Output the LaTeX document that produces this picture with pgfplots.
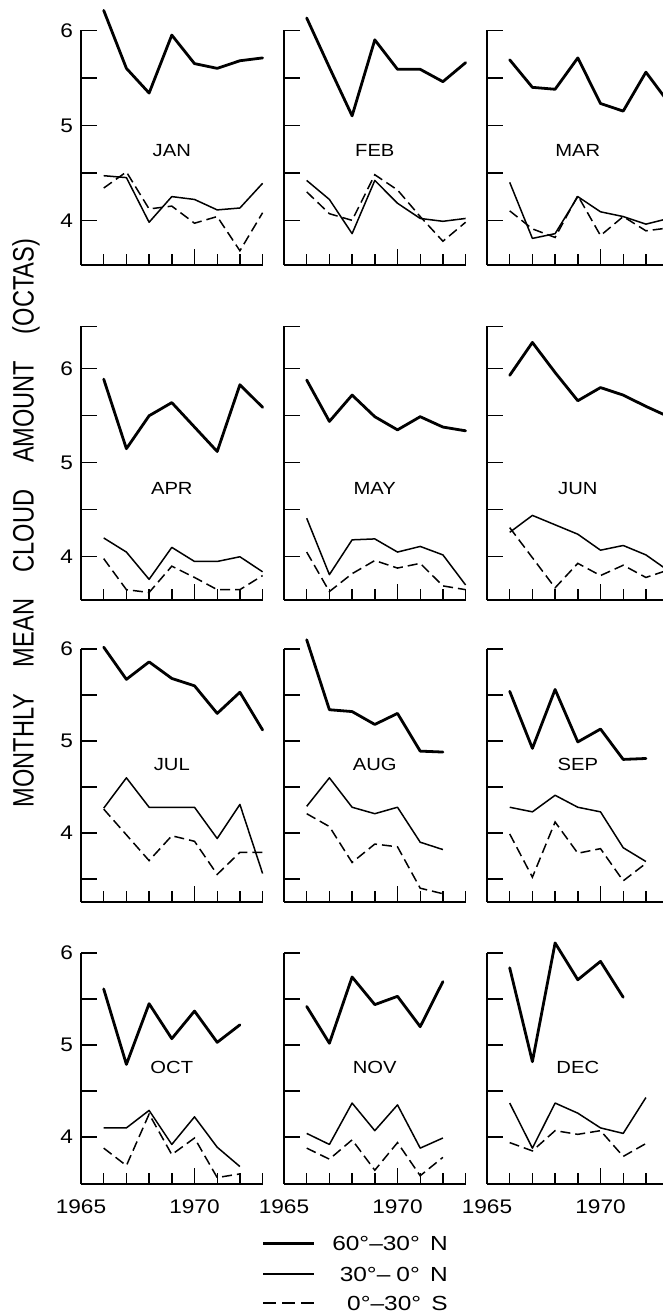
\documentclass[border=0pt]{standalone}
\usepackage{fontspec}
\setmainfont{Liberation Sans}[FakeStretch=1.15]
\newfontfamily\ylabfont{Liberation Sans}[FakeStretch=0.8]
\newfontfamily\legfamily{Liberation Sans}[FakeStretch=1.2]
\usepackage{pgfplots}
\pgfplotsset{compat=1.18}
\newlength{\pxu}
\setlength{\pxu}{0.25mm}
\newcommand\tickfont{\fontsize{14}{16}\selectfont}
\newcommand\monthfont{\fontsize{12.5}{14}\selectfont}
\newcommand\legfont{\legfamily\fontsize{14.5}{17}\selectfont}
\tikzset{month/.style={font=\monthfont}}
\pgfplotsset{
  panel/.style={
    x=22.7\pxu, xmin=1965, xmax=1973,
    axis x line=bottom, axis y line=left,
    axis line style={-, line width=1.4\pxu, black},
    clip=false, anchor=south west,
    tick align=inside,
    xtick={1970}, minor xtick={1966,1967,1968,1969,1970,1971,1972,1973},
    major tick length=16\pxu, minor tick length=11\pxu,
    every tick/.style={line width=1.4\pxu, black},
    xticklabels={}, yticklabels={},
    /pgf/number format/assume math mode=true,
    tick label style={font=\tickfont},
    xticklabel style={yshift=-11\pxu},
    yticklabel style={xshift=-3\pxu},
  },
  row1/.style={y=95\pxu, ymin=3.53, ymax=6, ytick={4,4.5,5,5.5,6}},
  row2/.style={y=94\pxu, ymin=3.54, ymax=6.45, ytick={4,4.5,5,5.5,6,6.45}},
  row3/.style={y=92\pxu, ymin=3.25, ymax=6, ytick={3.5,4,4.5,5,5.5,6}},
  row4/.style={y=92\pxu, ymin=3.49, ymax=6, ytick={4,4.5,5,5.5,6}},
  lab1/.style={yticklabels={4,{},5,{},6}},
  lab2/.style={yticklabels={4,{},5,{},6,{}}},
  lab3/.style={yticklabels={{},4,{},5,{},6}},
  botrow/.style={xticklabels={1970}, extra x ticks={1965}, extra x tick labels={1965},
    extra x tick style={major tick length=0pt}},
  thk/.style={black, line width=2.8\pxu, line join=round, line cap=round},
  thn/.style={black, line width=1.5\pxu, line join=round},
  dsh/.style={black, line width=1.5\pxu, dash pattern=on 10\pxu off 5\pxu},
}
\begin{document}
\begin{tikzpicture}
% ---------- Row 1 ----------
\begin{axis}[panel, row1, lab1, at={(81\pxu,-265\pxu)}]
\addplot[thk] coordinates {(1966,6.21)(1967,5.60)(1968,5.34)(1969,5.95)(1970,5.65)(1971,5.60)(1972,5.68)(1973,5.71)};
\addplot[thn] coordinates {(1966,4.47)(1967,4.45)(1968,3.98)(1969,4.25)(1970,4.22)(1971,4.11)(1972,4.13)(1973,4.39)};
\addplot[dsh] coordinates {(1966,4.34)(1967,4.51)(1968,4.12)(1969,4.15)(1970,3.97)(1971,4.04)(1972,3.68)(1973,4.08)};
\node[month] at (axis cs:1969,4.74) {JAN};
\end{axis}
\begin{axis}[panel, row1, at={(284\pxu,-265\pxu)}]
\addplot[thk] coordinates {(1966,6.13)(1967,5.61)(1968,5.10)(1969,5.90)(1970,5.59)(1971,5.59)(1972,5.46)(1973,5.66)};
\addplot[thn] coordinates {(1966,4.42)(1967,4.22)(1968,3.86)(1969,4.42)(1970,4.18)(1971,4.02)(1972,3.99)(1973,4.02)};
\addplot[dsh] coordinates {(1966,4.30)(1967,4.07)(1968,4.00)(1969,4.48)(1970,4.32)(1971,4.04)(1972,3.78)(1973,3.98)};
\node[month] at (axis cs:1969,4.74) {FEB};
\end{axis}
\begin{axis}[panel, row1, at={(487\pxu,-265\pxu)}]
\addplot[thk] coordinates {(1966,5.69)(1967,5.40)(1968,5.38)(1969,5.71)(1970,5.23)(1971,5.15)(1972,5.56)(1973,5.24)};
\addplot[thn] coordinates {(1966,4.40)(1967,3.81)(1968,3.86)(1969,4.25)(1970,4.09)(1971,4.04)(1972,3.96)(1973,4.02)};
\addplot[dsh] coordinates {(1966,4.10)(1967,3.91)(1968,3.82)(1969,4.26)(1970,3.84)(1971,4.04)(1972,3.89)(1973,3.92)};
\node[month] at (axis cs:1969,4.74) {MAR};
\end{axis}
% ---------- Row 2 ----------
\begin{axis}[panel, row2, lab2, at={(81\pxu,-600\pxu)}]
\addplot[thk] coordinates {(1966,5.89)(1967,5.15)(1968,5.50)(1969,5.64)(1970,5.38)(1971,5.12)(1972,5.83)(1973,5.59)};
\addplot[thn] coordinates {(1966,4.20)(1967,4.05)(1968,3.76)(1969,4.10)(1970,3.95)(1971,3.95)(1972,4.00)(1973,3.84)};
\addplot[dsh] coordinates {(1966,3.98)(1967,3.65)(1968,3.62)(1969,3.90)(1970,3.78)(1971,3.65)(1972,3.65)(1973,3.80)};
\node[month] at (axis cs:1969,4.73) {APR};
\end{axis}
\begin{axis}[panel, row2, at={(284\pxu,-600\pxu)}]
\addplot[thk] coordinates {(1966,5.88)(1967,5.44)(1968,5.72)(1969,5.49)(1970,5.35)(1971,5.49)(1972,5.38)(1973,5.34)};
\addplot[thn] coordinates {(1966,4.41)(1967,3.81)(1968,4.18)(1969,4.19)(1970,4.05)(1971,4.11)(1972,4.02)(1973,3.70)};
\addplot[dsh] coordinates {(1966,4.05)(1967,3.63)(1968,3.82)(1969,3.96)(1970,3.88)(1971,3.93)(1972,3.69)(1973,3.65)};
\node[month] at (axis cs:1969,4.73) {MAY};
\end{axis}
\begin{axis}[panel, row2, at={(487\pxu,-600\pxu)}]
\addplot[thk] coordinates {(1966,5.93)(1967,6.28)(1968,5.96)(1969,5.66)(1970,5.80)(1971,5.72)(1972,5.60)(1973,5.49)};
\addplot[thn] coordinates {(1966,4.26)(1967,4.44)(1968,4.34)(1969,4.24)(1970,4.07)(1971,4.12)(1972,4.02)(1973,3.85)};
\addplot[dsh] coordinates {(1966,4.31)(1967,3.99)(1968,3.67)(1969,3.93)(1970,3.80)(1971,3.91)(1972,3.78)(1973,3.86)};
\node[month] at (axis cs:1969,4.73) {JUN};
\end{axis}
% ---------- Row 3 ----------
\begin{axis}[panel, row3, lab3, at={(81\pxu,-902\pxu)}]
\addplot[thk] coordinates {(1966,6.02)(1967,5.67)(1968,5.86)(1969,5.68)(1970,5.60)(1971,5.30)(1972,5.53)(1973,5.12)};
\addplot[thn] coordinates {(1966,4.27)(1967,4.60)(1968,4.28)(1969,4.28)(1970,4.28)(1971,3.94)(1972,4.31)(1973,3.56)};
\addplot[dsh] coordinates {(1966,4.26)(1967,3.98)(1968,3.70)(1969,3.97)(1970,3.91)(1971,3.55)(1972,3.79)(1973,3.79)};
\node[month] at (axis cs:1969,4.74) {JUL};
\end{axis}
\begin{axis}[panel, row3, at={(284\pxu,-902\pxu)}]
\addplot[thk] coordinates {(1966,6.10)(1967,5.34)(1968,5.32)(1969,5.18)(1970,5.30)(1971,4.89)(1972,4.88)};
\addplot[thn] coordinates {(1966,4.29)(1967,4.60)(1968,4.28)(1969,4.21)(1970,4.28)(1971,3.90)(1972,3.82)};
\addplot[dsh] coordinates {(1966,4.21)(1967,4.07)(1968,3.68)(1969,3.88)(1970,3.85)(1971,3.40)(1972,3.34)};
\node[month] at (axis cs:1969,4.74) {AUG};
\end{axis}
\begin{axis}[panel, row3, at={(487\pxu,-902\pxu)}]
\addplot[thk] coordinates {(1966,5.54)(1967,4.92)(1968,5.56)(1969,4.99)(1970,5.13)(1971,4.80)(1972,4.81)};
\addplot[thn] coordinates {(1966,4.28)(1967,4.23)(1968,4.41)(1969,4.28)(1970,4.23)(1971,3.84)(1972,3.69)};
\addplot[dsh] coordinates {(1966,3.99)(1967,3.52)(1968,4.12)(1969,3.78)(1970,3.83)(1971,3.48)(1972,3.67)};
\node[month] at (axis cs:1969,4.74) {SEP};
\end{axis}
% ---------- Row 4 ----------
\begin{axis}[panel, row4, lab1, botrow, at={(81\pxu,-1184\pxu)}]
\addplot[thk] coordinates {(1966,5.61)(1967,4.79)(1968,5.45)(1969,5.07)(1970,5.37)(1971,5.03)(1972,5.22)};
\addplot[thn] coordinates {(1966,4.10)(1967,4.10)(1968,4.29)(1969,3.92)(1970,4.22)(1971,3.89)(1972,3.68)};
\addplot[dsh] coordinates {(1966,3.88)(1967,3.69)(1968,4.25)(1969,3.81)(1970,3.99)(1971,3.56)(1972,3.60)};
\node[month] at (axis cs:1969,4.76) {OCT};
\end{axis}
\begin{axis}[panel, row4, botrow, at={(284\pxu,-1184\pxu)}]
\addplot[thk] coordinates {(1966,5.42)(1967,5.02)(1968,5.74)(1969,5.44)(1970,5.53)(1971,5.20)(1972,5.69)};
\addplot[thn] coordinates {(1966,4.04)(1967,3.92)(1968,4.37)(1969,4.07)(1970,4.35)(1971,3.88)(1972,3.99)};
\addplot[dsh] coordinates {(1966,3.88)(1967,3.76)(1968,3.97)(1969,3.64)(1970,3.94)(1971,3.58)(1972,3.78)};
\node[month] at (axis cs:1969,4.76) {NOV};
\end{axis}
\begin{axis}[panel, row4, botrow, at={(487\pxu,-1184\pxu)}]
\addplot[thk] coordinates {(1966,5.84)(1967,4.82)(1968,6.11)(1969,5.71)(1970,5.91)(1971,5.52)};
\addplot[thn] coordinates {(1966,4.37)(1967,3.88)(1968,4.37)(1969,4.26)(1970,4.10)(1971,4.04)(1972,4.43)};
\addplot[dsh] coordinates {(1966,3.94)(1967,3.85)(1968,4.07)(1969,4.03)(1970,4.07)(1971,3.79)(1972,3.93)};
\node[month] at (axis cs:1969,4.76) {DEC};
\end{axis}
% ---------- legend (key) ----------
\draw[black, line width=3\pxu] (263\pxu,-1243\pxu) -- (314\pxu,-1243\pxu);
\draw[black, line width=1.5\pxu] (263\pxu,-1274\pxu) -- (314\pxu,-1274\pxu);
\draw[black, line width=1.5\pxu, dash pattern=on 13\pxu off 6\pxu] (263\pxu,-1303\pxu) -- (314\pxu,-1303\pxu);
\node[anchor=base east, inner sep=0pt, font=\legfont] at (448\pxu,-1250\pxu) {60°–30°\hspace{0.5em}N};
\node[anchor=base east, inner sep=0pt, font=\legfont] at (448\pxu,-1281\pxu) {30°–\hspace{0.3em}0°\hspace{0.5em}N};
\node[anchor=base east, inner sep=0pt, font=\legfont] at (448\pxu,-1310\pxu) {0°–30°\hspace{0.5em}S};
% ---------- y label ----------
\node[rotate=90, font=\ylabfont\fontsize{21}{24}\selectfont] at (26\pxu,-523\pxu)
  {MONTHLY\hspace{0.9em}MEAN\hspace{0.9em}CLOUD\hspace{0.9em}AMOUNT\hspace{0.9em}(OCTAS)};
\pgfresetboundingbox
\useasboundingbox (0,0) rectangle (663\pxu,-1315\pxu);
\end{tikzpicture}
\end{document}
